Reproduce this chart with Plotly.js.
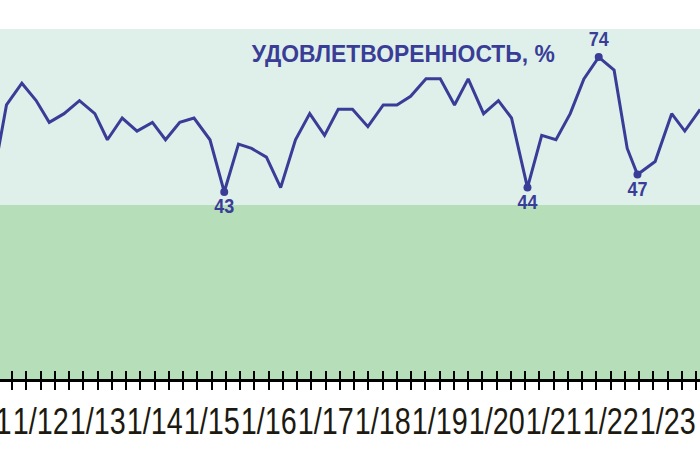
<!DOCTYPE html>
<html>
<head>
<meta charset="utf-8">
<script src="https://cdn.plot.ly/plotly-3.0.1.min.js"></script>
<style>
  html, body { margin: 0; padding: 0; overflow: hidden; background: #ffffff; }
  #grafico { position: absolute; left: -50px; top: 0; width: 800px; height: 467px; }
</style>
</head>
<body>
<div id="grafico"></div>
<script>
"use strict";

// Fechas (en años decimales) de cada medición
const fechas = [2011.15, 2011.40, 2011.67, 2011.92, 2012.15, 2012.41, 2012.68, 2012.95,
    2013.17, 2013.43, 2013.69, 2013.96, 2014.19, 2014.44, 2014.69, 2014.97,
    2015.22, 2015.47, 2015.70, 2015.96, 2016.21, 2016.47, 2016.72, 2016.98,
    2017.22, 2017.47, 2017.74, 2018.01, 2018.25, 2018.49, 2018.76, 2019.01,
    2019.26, 2019.50, 2019.77, 2020.03, 2020.26, 2020.54, 2020.79, 2021.04,
    2021.29, 2021.53, 2021.79, 2022.06, 2022.29, 2022.47, 2022.78, 2023.07,
    2023.30, 2023.57];

// Удовлетворенность, %
const satisfaccion = [45, 63, 68, 64, 59, 61, 64, 61, 55, 60, 57, 59, 55, 59, 60, 55,
    43, 54, 53, 51, 44, 55, 61, 56, 62, 62, 58, 63, 63, 65, 69, 69,
    63, 69, 61, 64, 60, 44, 56, 55, 61, 69, 74, 71, 53, 47, 50, 61,
    57, 62];

// Puntos destacados (índices) y posición de su etiqueta
const destacados = [16, 37, 42, 45];
const posEtiquetas = ['bottom center', 'bottom center', 'top center', 'bottom center'];

// Etiquetas del eje X
const anios = [2011, 2012, 2013, 2014, 2015, 2016, 2017, 2018, 2019, 2020, 2021, 2022, 2023];
const etiquetasAnios = ['1/11', '1/12', '1/13', '1/14', '1/15', '1/16', '1/17', '1/18',
    '1/19', '1/20', '1/21', '1/22', '1/23'];

const titulo = 'УДОВЛЕТВОРЕННОСТЬ, %';

const azul = '#3a3d97';
const fuente = '"Liberation Sans", Arial, sans-serif';
const rangoX = [2010.409, 2024.444];

const traceLinea = {
    x: fechas,
    y: satisfaccion,
    type: 'scatter',
    mode: 'lines',
    line: { color: azul, width: 3 },
    hoverinfo: 'skip'
};

const tracePuntos = {
    x: destacados.map(i => fechas[i]),
    y: destacados.map(i => satisfaccion[i]),
    text: destacados.map(i => String(satisfaccion[i])),
    type: 'scatter',
    mode: 'markers+text',
    textposition: posEtiquetas,
    marker: { color: azul, size: 8 },
    textfont: { family: fuente, size: 20, color: azul, weight: 'bold' },
    cliponaxis: false,
    hoverinfo: 'skip'
};

// trazas invisibles para que se dibujen los ejes de marcas
const traceMarcasFuera = { x: fechas, y: satisfaccion, xaxis: 'x2', type: 'scatter', mode: 'lines', line: { width: 0 }, hoverinfo: 'skip' };
const traceMarcasDentro = { x: fechas, y: satisfaccion, xaxis: 'x3', type: 'scatter', mode: 'lines', line: { width: 0 }, hoverinfo: 'skip' };

const layout = {
    width: 800,
    height: 467,
    margin: { l: 0, r: 0, t: 29, b: 88 },
    showlegend: false,
    paper_bgcolor: '#ffffff',
    plot_bgcolor: '#dff0ea',
    title: {
        text: '<b>' + titulo + '</b>',
        xref: 'container',
        yref: 'container',
        x: 0.5667,
        y: 0.885,
        xanchor: 'center',
        yanchor: 'middle',
        font: { family: fuente, size: 24, color: azul }
    },
    xaxis: {
        range: rangoX,
        tickmode: 'array',
        tickvals: anios,
        ticktext: etiquetasAnios,
        tickangle: 0,
        ticks: '',
        ticklabelstandoff: 9,
        ticklabeloverflow: 'allow',
        tickfont: { family: fuente, size: 36, color: '#1c1a10' },
        showline: true,
        linecolor: '#000000',
        linewidth: 2.5,
        showgrid: false,
        zeroline: false,
        fixedrange: true
    },
    xaxis2: {
        range: rangoX,
        overlaying: 'x',
        anchor: 'y',
        side: 'bottom',
        tickmode: 'linear',
        tick0: 2011,
        dtick: 0.25,
        ticks: 'outside',
        ticklen: 10,
        tickwidth: 2,
        tickcolor: '#000000',
        showticklabels: false,
        showgrid: false,
        zeroline: false,
        fixedrange: true
    },
    xaxis3: {
        range: rangoX,
        overlaying: 'x',
        anchor: 'y',
        side: 'bottom',
        tickmode: 'linear',
        tick0: 2011,
        dtick: 0.25,
        ticks: 'inside',
        ticklen: 8,
        tickwidth: 2,
        tickcolor: '#000000',
        showticklabels: false,
        showgrid: false,
        zeroline: false,
        fixedrange: true
    },
    yaxis: {
        range: [0, 80.46],
        visible: false,
        showgrid: false,
        zeroline: false,
        fixedrange: true
    },
    shapes: [
        {
            type: 'rect',
            xref: 'paper', x0: 0, x1: 1,
            yref: 'y', y0: 0, y1: 40,
            fillcolor: '#b5deb9',
            line: { width: 0 },
            layer: 'below'
        }
    ]
};

const config = { displayModeBar: false, staticPlot: true };

// Estrecha el texto como en el original (letra condensada)
function condensar(selector, ancho) {
    document.querySelectorAll(selector).forEach(t => {
        t.setAttribute('textLength', ancho);
        t.setAttribute('lengthAdjust', 'spacingAndGlyphs');
    });
}

Plotly.newPlot('grafico', [traceLinea, tracePuntos, traceMarcasFuera, traceMarcasDentro], layout, config)
    .then(() => {
        condensar('#grafico .xtick text', 56);
        condensar('#grafico .gtitle', 303);
        condensar('#grafico .textpoint text', 20);
    });
</script>
</body>
</html>
